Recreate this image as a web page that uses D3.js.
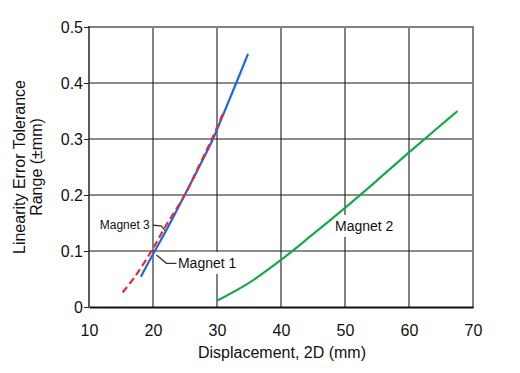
<!DOCTYPE html>
<html>
<head>
<meta charset="utf-8">
<script src="https://cdn.jsdelivr.net/npm/d3@7"></script>
<style>
  body { margin: 0; background: #fff; }
  text { font-family: "Liberation Sans", Arial, sans-serif; fill: #111; }
</style>
</head>
<body>
<svg id="chart" width="520" height="373"></svg>
<script>
// --- data ---
const xTicks = [10, 20, 30, 40, 50, 60, 70];
const yTicks = [0, 0.1, 0.2, 0.3, 0.4, 0.5];
const yTickLabels = ["0", "0.1", "0.2", "0.3", "0.4", "0.5"];

const magnet1 = [[18.1, 0.054], [20.27, 0.1], [22.1, 0.1375], [24.95, 0.2], [27.2, 0.25], [29.37, 0.3], [31.2, 0.35], [33, 0.4], [34.85, 0.452]];
const magnet2 = [[30, 0.011], [35, 0.043], [40, 0.084], [45, 0.13], [50, 0.177], [55, 0.226], [60, 0.276], [65, 0.325], [67.6, 0.35]];
const magnet3 = [[15.25, 0.026], [17.17, 0.054], [19.76, 0.1], [22, 0.145], [24.95, 0.2], [27.1, 0.25], [29.2, 0.3], [31.06, 0.349]];

// labels: anchor in data units, leader points in data units
const labels = [
    { text: "Magnet 3", x: 19.5, y: 0.146, anchor: "end", size: 12, boxed: false, leader: [[19.98, 0.146], [21.29, 0.145], [22.07, 0.134]] },
    { text: "Magnet 1", x: 23.9, y: 0.0786, anchor: "start", size: 14, boxed: true, leader: [[23.66, 0.078], [22.1, 0.078], [20.54, 0.093]] },
    { text: "Magnet 2", x: 53.0, y: 0.1446, anchor: "middle", size: 14, boxed: true, leader: null }
];

const svg = d3.select("#chart");
const margin = { left: 89, top: 27, right: 47, bottom: 66 };
const W = 520, H = 373;

const x = d3.scaleLinear().domain([10, 70]).range([margin.left, W - margin.right]);
const y = d3.scaleLinear().domain([0, 0.5]).range([H - margin.bottom, margin.top]);

// grid
const grid = svg.append("g");
grid.selectAll("line.vx").data(xTicks.slice(1, -1)).enter().append("line")
    .attr("x1", d => x(d)).attr("x2", d => x(d))
    .attr("y1", y(0)).attr("y2", y(0.5))
    .attr("stroke", "#1a1a1a").attr("stroke-width", 1.1);
grid.selectAll("line.hy").data(yTicks.slice(1, -1)).enter().append("line")
    .attr("x1", x(10)).attr("x2", x(70))
    .attr("y1", d => y(d)).attr("y2", d => y(d))
    .attr("stroke", "#1a1a1a").attr("stroke-width", 1.1);

// frame: top/right grey, left/bottom dark
svg.append("line").attr("x1", x(10)).attr("x2", x(70)).attr("y1", y(0.5)).attr("y2", y(0.5))
    .attr("stroke", "#808080").attr("stroke-width", 2);
svg.append("line").attr("x1", x(70)).attr("x2", x(70)).attr("y1", y(0.5) - 1).attr("y2", y(0) + 1)
    .attr("stroke", "#808080").attr("stroke-width", 2);

// axes
const yAxis = d3.axisLeft(y).tickValues(yTicks).tickFormat((d, i) => yTickLabels[i]).tickSize(5).tickPadding(1);
const xAxis = d3.axisBottom(x).tickValues(xTicks).tickFormat(d3.format("d")).tickSize(0).tickPadding(18);

const gy = svg.append("g").attr("transform", `translate(${x(10)},0)`).call(yAxis);
gy.select(".domain").attr("stroke", "#333").attr("stroke-width", 1.6).attr("d", `M0,${y(0.5) - 1}V${y(0)}`);
gy.selectAll(".tick line").attr("stroke", "#222");
gy.selectAll(".tick text").attr("font-size", 16).attr("font-family", "Liberation Sans, Arial, sans-serif").attr("fill", "#111");

const gx = svg.append("g").attr("transform", `translate(0,${y(0)})`).call(xAxis);
gx.select(".domain").attr("stroke", "#111").attr("stroke-width", 2);
gx.selectAll(".tick text").attr("font-size", 16).attr("font-family", "Liberation Sans, Arial, sans-serif").attr("fill", "#111");

// axis titles
svg.append("text")
    .attr("x", (x(10) + x(70)) / 2 + 1).attr("y", 358)
    .attr("text-anchor", "middle").attr("font-size", 16)
    .text("Displacement, 2D (mm)");

const yTitle = svg.append("text")
    .attr("transform", `translate(25,${(y(0) + y(0.5)) / 2}) rotate(-90)`)
    .attr("text-anchor", "middle").attr("font-size", 16);
yTitle.append("tspan").attr("x", 0).attr("y", 0).text("Linearity Error Tolerance");
yTitle.append("tspan").attr("x", 0).attr("y", 16.5).text("Range (±mm)");

// labels with white backing (drawn under the curves)
labels.forEach(l => {
    const g = svg.append("g");
    const t = g.append("text")
        .attr("x", x(l.x)).attr("y", y(l.y))
        .attr("dy", "0.35em")
        .attr("text-anchor", l.anchor)
        .attr("font-size", l.size)
        .text(l.text);
    const bb = t.node().getBBox();
    if (l.boxed) {
        g.insert("rect", "text")
            .attr("x", bb.x - 2).attr("y", bb.y - 3)
            .attr("width", bb.width + 4).attr("height", bb.height + 6)
            .attr("fill", "#fff");
    }
    if (l.leader) {
        svg.append("path").datum(l.leader)
            .attr("d", d3.line().x(d => x(d[0])).y(d => y(d[1])))
            .attr("fill", "none").attr("stroke", "#333").attr("stroke-width", 1.3);
    }
});

// series
const line = d3.line().x(d => x(d[0])).y(d => y(d[1])).curve(d3.curveCatmullRom.alpha(0.5));

svg.append("path").datum(magnet2).attr("d", line)
    .attr("fill", "none").attr("stroke", "#16a84b").attr("stroke-width", 2.2);
svg.append("path").datum(magnet1).attr("d", line)
    .attr("fill", "none").attr("stroke", "#1c66e8").attr("stroke-width", 2.2);
svg.append("path").datum(magnet3).attr("d", line)
    .attr("fill", "none").attr("stroke", "#e52b36").attr("stroke-width", 2.2)
    .attr("stroke-dasharray", "7,4");
</script>
</body>
</html>
